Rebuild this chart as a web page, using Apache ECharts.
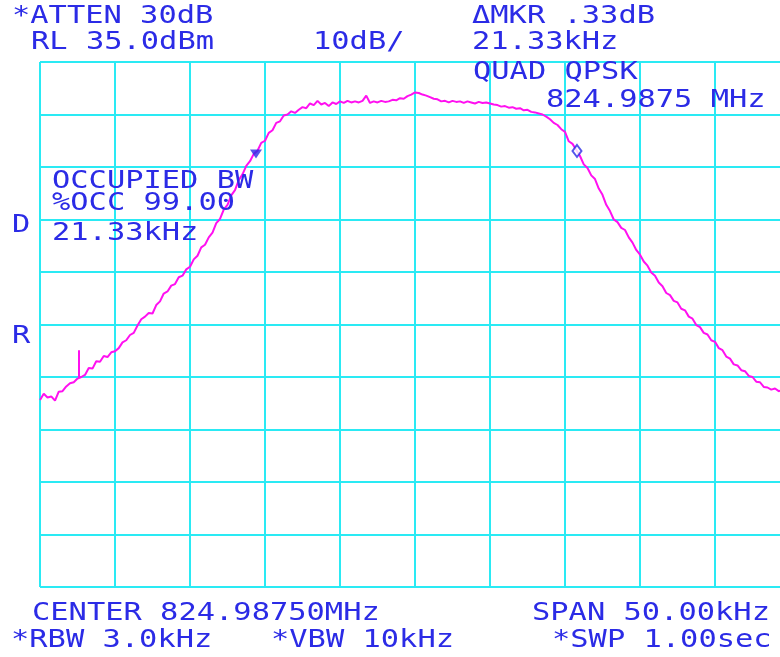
<!DOCTYPE html>
<html>
<head>
<meta charset="utf-8">
<script src="https://cdn.jsdelivr.net/npm/echarts@6/dist/echarts.min.js"></script>
<style>
html,body{margin:0;padding:0;background:#fff;}
#chart{width:780px;height:657px;}
</style>
</head>
<body>
<div id="chart"></div>
<script>
// Sweep: frequency offset from center (kHz), 0.25 kHz per bin
const sweepStartKHz = -25;
const sweepStepKHz = 0.25;
// Trace level (dBm) per bin
const traceDbm = [
-29.4,-28.2,-28.9,-28.7,-29.5,-27.8,-27.7,-26.8,-26.2,-26.0,
-25.3,-25.0,-24.6,-23.3,-23.4,-22.0,-22.1,-21.0,-21.2,-20.3,
-20.1,-19.5,-18.4,-18.0,-17.0,-16.6,-15.2,-14.0,-13.5,-12.8,
-12.9,-11.3,-10.6,-9.1,-8.7,-7.6,-7.3,-6.0,-5.7,-4.5,
-4.0,-2.6,-1.9,-0.3,0.2,1.6,2.5,4.3,5.1,6.9,
7.8,9.6,10.6,12.5,13.6,15.2,16.1,17.5,18.1,19.6,
20.0,21.5,22.0,23.4,23.7,24.8,25.0,25.6,25.3,25.9,
26.4,26.2,27.1,26.8,27.6,26.9,27.2,26.6,27.3,27.0,
27.5,27.2,27.6,27.3,27.5,27.3,27.6,28.6,27.2,27.5,
27.3,27.6,27.4,27.5,27.8,27.7,28.1,28.0,28.5,28.8,
29.2,29.1,28.8,28.6,28.3,28.0,27.9,27.5,27.6,27.3,
27.6,27.4,27.5,27.2,27.5,27.3,27.1,27.4,27.2,27.3,
27.1,26.9,26.8,26.5,26.6,26.3,26.4,26.1,26.2,25.8,
25.9,25.5,25.4,25.2,25.0,24.6,24.1,23.4,23.0,22.2,
21.7,19.9,19.4,18.3,17.1,15.5,14.8,13.4,12.7,10.9,
9.7,7.8,6.6,5.0,4.5,3.4,3.0,1.6,0.6,-0.8,
-1.7,-3.0,-3.8,-5.1,-5.7,-7.0,-7.7,-9.0,-9.4,-10.5,
-10.8,-12.0,-12.3,-13.5,-13.9,-15.1,-15.5,-16.6,-16.9,-18.0,
-18.3,-19.5,-19.9,-21.1,-21.5,-22.6,-22.8,-23.7,-23.9,-24.8,
-25.0,-25.9,-26.0,-26.9,-27.0,-27.4,-27.2,-27.7,-27.5,-28.1,
-28.3
];
// Narrow spur near the left edge [kHz, dBm]
const spur = [[-22.4, -25.1], [-22.4, -19.9]];
// Occupied-BW markers [kHz, dBm]
const markerLower = [[-10.6, 17.5]];
const markerUpper = [[10.8, 18.05]];

// Axis settings
const xMinKHz = -25, xMaxKHz = 25, xDivKHz = 5;
const refLevelDbm = 35, dbPerDiv = 10, divisions = 10;

// Annotation texts
const annotations = [
  {t:'*ATTEN 30dB', x:12, y:16},
  {t:'RL 35.0dBm', x:31, y:42.5},
  {t:'10dB/', x:313, y:42.5},
  {t:'\u0394MKR .33dB', x:472, y:16},
  {t:'21.33kHz', x:472, y:42.5},
  {t:'QUAD QPSK', x:473, y:72.5},
  {t:'824.9875 MHz', x:546, y:100},
  {t:'OCCUPIED BW', x:52, y:181},
  {t:'%OCC 99.00', x:52, y:203.5},
  {t:'21.33kHz', x:52, y:233.5},
  {t:'D', x:12, y:225.5},
  {t:'R', x:12, y:336},
  {t:'CENTER 824.98750MHz', x:32, y:613},
  {t:'SPAN 50.00kHz', x:532, y:613},
  {t:'*RBW 3.0kHz', x:11, y:640.5},
  {t:'*VBW 10kHz', x:271, y:640.5},
  {t:'*SWP 1.00sec', x:552, y:640.5}
];

const traceData = traceDbm.map((v, i) => [sweepStartKHz + i * sweepStepKHz, v]);
const textBlue = '#2b2be6';
const gridCyan = '#2aeaf4';
const traceMagenta = '#ff10f0';

const chart = echarts.init(document.getElementById('chart'), null, {renderer: 'canvas'});
chart.setOption({
  animation: false,
  backgroundColor: '#ffffff',
  grid: {left: 40, top: 62, width: 750, height: 525, containLabel: false, outerBoundsMode: 'none'},
  xAxis: {
    type: 'value', min: xMinKHz, max: xMaxKHz, interval: xDivKHz,
    axisLine: {show: false}, axisTick: {show: false}, axisLabel: {show: false},
    splitLine: {show: true, lineStyle: {color: gridCyan, width: 2}}
  },
  yAxis: {
    type: 'value', min: refLevelDbm - dbPerDiv * divisions, max: refLevelDbm, interval: dbPerDiv,
    axisLine: {show: false}, axisTick: {show: false}, axisLabel: {show: false},
    splitLine: {show: true, lineStyle: {color: gridCyan, width: 2}}
  },
  series: [
    {type: 'line', data: traceData, showSymbol: false, symbol: 'none',
     lineStyle: {color: traceMagenta, width: 2}, z: 3},
    {type: 'line', data: spur, showSymbol: false, symbol: 'none',
     lineStyle: {color: traceMagenta, width: 2}, z: 3},
    {type: 'scatter', data: markerLower, symbol: 'triangle', symbolRotate: 180,
     symbolSize: [12, 9], itemStyle: {color: textBlue}, z: 4},
    {type: 'scatter', data: markerUpper, symbol: 'emptyDiamond',
     symbolSize: [9, 12], itemStyle: {color: textBlue, borderColor: textBlue, borderWidth: 2}, z: 4}
  ],
  graphic: annotations.map(a => ({
    type: 'text', x: a.x, y: a.y, scaleX: 1.216, z: 10,
    style: {text: a.t, font: '25px "DejaVu Sans Mono"', fill: textBlue,
            textAlign: 'left', textVerticalAlign: 'middle'}
  }))
});
</script>
</body>
</html>
